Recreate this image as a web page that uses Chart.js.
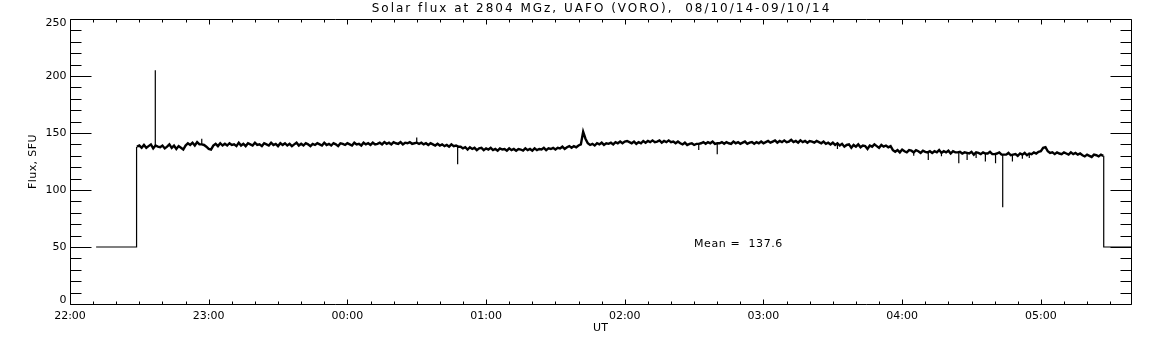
<!DOCTYPE html>
<html>
<head>
<meta charset="utf-8">
<script src="https://cdn.jsdelivr.net/npm/chart.js@4/dist/chart.umd.min.js"></script>
<style>
  html, body { margin: 0; padding: 0; background: #fff; }
  canvas { display: block; }
</style>
</head>
<body>
<canvas id="fluxChart" width="1152" height="345"></canvas>
<script>
// minutes after 22:00 UT, 08/10/14
var xTickMinutes = [0, 60, 120, 180, 240, 300, 360, 420];
var xTickLabels = ['22:00', '23:00', '00:00', '01:00', '02:00', '03:00', '04:00', '05:00'];
var yTickValues = [0, 50, 100, 150, 200, 250];

// receiver off before / after the session (flux level 50) incl. the jumps
var headMinutes = [11.3, 28.8, 28.8];
var headFlux = [50, 50, 138];
var tailMinutes = [447.2, 447.2, 459];
var tailFlux = [130, 50, 50];

// one value per minute starting at minute 29 (22:29 UT), SFU
var fluxStartMinute = 29;
var flux = [
  138, 139, 137, 139.5, 137, 138.5, 140, 136.5, 139, 138,
  137.5, 139, 136.5, 138, 140, 137, 139, 136, 138.5, 137,
  135.5, 139, 141, 139.5, 141.5, 139, 142, 140, 140, 139.5,
  138, 136, 135.5, 139, 140.5, 138.5, 141, 139, 140.5, 139,
  141, 139.5, 140, 138.5, 141.5, 139, 140.5, 138.5, 141, 140,
  139, 141.5, 139.5, 140, 138.5, 141, 140, 139, 141.5, 139.5,
  140.5, 138.5, 141, 139.5, 141, 139, 140.5, 138.5, 140, 141.5,
  139, 140.5, 139, 141, 140, 138.5, 140.5, 139.5, 141, 140,
  139, 141.5, 139.5, 140.5, 139, 141, 140, 138.5, 141, 140.5,
  139.5, 141, 140, 139, 141.5, 140, 140.5, 139, 141.5, 140,
  141, 139.5, 141.5, 140, 140.5, 141.5, 140, 142, 140.5, 141.5,
  140, 142, 141, 140.5, 142, 140, 141.5, 141, 142, 140.5,
  141, 141.5, 140.5, 141.5, 140, 141, 139.5, 141, 140, 139,
  140.5, 139, 140, 138.5, 139.5, 138, 140, 138.5, 139, 138,
  138, 136.5, 137.5, 135.5, 137.5, 136, 137, 135, 136.5, 137,
  135, 136.5, 135.5, 137, 135, 136, 134.5, 136.5, 135.5, 136,
  134.5, 136.5, 135, 136, 134.5, 136, 135.5, 134.5, 136.5, 135,
  136, 134.5, 136.5, 135, 136, 135.5, 137, 135, 136.5, 136,
  137, 135.5, 137, 136.5, 138, 136, 137.5, 138.5, 137, 138.5,
  137.5, 139, 140, 151, 145, 141, 139.5, 140.5, 139, 141,
  140, 141.5, 139.5, 141, 140.5, 141.5, 140, 142, 141, 142.5,
  141, 142.5, 143, 142, 141, 142.5, 140.5, 142, 141, 143,
  141.5, 143, 142, 143.5, 142, 142.5, 143.5, 141.5, 143, 142,
  143.5, 142, 142.5, 141, 142.5, 141, 140, 141.5, 139.5, 140.5,
  141, 139.5, 140.5, 140.5, 141, 142, 140.5, 142, 141, 142.5,
  140.5, 141, 141, 142, 140.5, 142, 141, 140.5, 142.5, 141,
  142, 140.5, 141.5, 142.5, 140.5, 141.5, 142, 140.5, 142, 141,
  142.5, 141, 142, 143, 141.5, 142.5, 143.5, 141.5, 143, 142,
  143.5, 142, 142.5, 144, 142, 143, 141.5, 143.5, 142, 143,
  141.5, 143, 142.5, 141.5, 143, 142, 141, 142.5, 140.5, 141.5,
  140, 141.5, 139.5, 141, 139, 140.5, 138, 139.5, 140, 137,
  139.5, 138, 140, 137.5, 139, 138.5, 136, 139, 138, 140,
  138.5, 137, 139.5, 138, 139, 137.5, 138.5, 135, 133.5, 135,
  133, 135.5, 134, 133, 135, 134.5, 133, 135, 134, 132.5,
  134.5, 133.5, 133, 134, 132.5, 134, 133, 135, 132.5, 134,
  133, 134.5, 132, 134, 133, 133, 133.5, 132, 133, 132.5,
  132, 133.5, 131, 133, 132.5, 131.5, 133, 132, 132, 133.5,
  131.5, 131.5, 132, 133, 131, 131, 131, 132.5, 130.5, 131,
  131.5, 130, 132, 131, 132.5, 130.5, 132, 131.5, 133, 132,
  133.5, 134, 137, 137.5, 134, 132.5, 133, 131.5, 133, 132,
  131.5, 133, 132, 131, 133, 131.5, 132.5, 131, 132, 130.5,
  129.5, 131, 130, 129, 131, 130.5, 129.5, 131, 130
];

// short spikes on top of the trace: minute, level at the foot, tip
var spikeMinutes = [36.9, 57, 150, 167.7, 272, 280, 332, 365, 371.3, 377, 384.5, 388.1, 392, 396, 400.4, 403.5, 407.7, 412, 415];
var spikeBase = [139, 140, 141, 138, 140.5, 140.5, 140, 134, 133.5, 133.5, 133, 132.5, 132, 132, 131.5, 131, 131, 131, 131];
var spikeTip = [205, 145, 146, 122.5, 135, 131.3, 136, 130, 126.3, 129.5, 123.4, 126.3, 128, 125, 123.4, 84.8, 125, 127.5, 128];

var meanFlux = 137.6;

var bandPoints = flux.map(function(v, i){ return {x: fluxStartMinute + i, y: v}; });
var thinPoints = [];
headMinutes.forEach(function(m, i){ thinPoints.push({x: m, y: headFlux[i]}); });
thinPoints.push({x: fluxStartMinute, y: null});
spikeMinutes.forEach(function(m, i){
    thinPoints.push({x: m, y: spikeBase[i]});
    thinPoints.push({x: m, y: spikeTip[i]});
    thinPoints.push({x: m, y: null});
});
tailMinutes.forEach(function(m, i){ thinPoints.push({x: m, y: tailFlux[i]}); });

var FONT = '"DejaVu Sans", sans-serif';

// IDL-like frame: box, inward ticks on all four sides, labels
var idlFrame = {
    id: 'idlFrame',
    afterDraw: function(chart){
        var ctx = chart.ctx;
        var a = chart.chartArea;
        var xs = chart.scales.x;
        var ys = chart.scales.y;
        var L = Math.round(a.left) + 0.5, R = Math.round(a.right) + 0.5;
        var T = Math.round(a.top) + 0.5, B = Math.round(a.bottom) + 0.5;
        ctx.save();
        ctx.strokeStyle = '#000';
        ctx.lineWidth = 1;
        ctx.beginPath();
        ctx.rect(L, T, R - L, B - T);
        // y ticks
        for (var v = 0; v <= 250; v += 10){
            var py = Math.round(ys.getPixelForValue(v)) + 0.5;
            var len = (v % 50 === 0) ? 21 : 11;
            ctx.moveTo(L, py); ctx.lineTo(L + len, py);
            ctx.moveTo(R, py); ctx.lineTo(R - len, py);
        }
        // x ticks
        for (var m = 0; m <= xs.max; m += 10){
            var px = Math.round(xs.getPixelForValue(m)) + 0.5;
            var tl = (m % 60 === 0) ? 5 : 3;
            ctx.moveTo(px, B); ctx.lineTo(px, B - tl);
            ctx.moveTo(px, T); ctx.lineTo(px, T + tl);
        }
        ctx.stroke();

        ctx.fillStyle = '#000';
        ctx.font = '11px ' + FONT;
        ctx.textAlign = 'right';
        ctx.textBaseline = 'middle';
        yTickValues.forEach(function(v){
            var py = ys.getPixelForValue(v);
            py = Math.min(Math.max(py, a.top + 4), a.bottom - 4);
            ctx.fillText(String(v), L - 4, py);
        });
        ctx.textAlign = 'center';
        xTickMinutes.forEach(function(m, i){
            ctx.fillText(xTickLabels[i], xs.getPixelForValue(m), 316);
        });
        ctx.fillText('UT', (a.left + a.right) / 2, 328);

        ctx.font = '12px ' + FONT;
        ctx.letterSpacing = '2px';
        ctx.fillText('Solar flux at 2804 MGz, UAFO (VORO),  08/10/14-09/10/14', (a.left + a.right) / 2 + 1, 9);

        ctx.font = '11px ' + FONT;
        ctx.letterSpacing = '0.6px';
        ctx.textAlign = 'left';
        ctx.fillText('Mean =  ' + meanFlux.toFixed(1), 694, 244);

        ctx.letterSpacing = '0.4px';
        ctx.translate(33, (a.top + a.bottom) / 2);
        ctx.rotate(-Math.PI / 2);
        ctx.textAlign = 'center';
        ctx.fillText('Flux, SFU', 0, 0);
        ctx.restore();
    }
};

var chartArea = document.getElementById('fluxChart').getContext('2d');
var fluxChart = new Chart(chartArea, {
    type: 'line',
    data: {
        datasets: [{
            label: 'Flux',
            data: bandPoints,
            borderColor: '#000',
            borderWidth: 2.4,
            pointRadius: 0,
            tension: 0,
            fill: false
        }, {
            label: 'Flux (off level, spikes)',
            data: thinPoints,
            borderColor: '#000',
            borderWidth: 1.2,
            pointRadius: 0,
            tension: 0,
            spanGaps: false,
            fill: false
        }]
    },
    options: {
        responsive: false,
        animation: false,
        events: [],
        layout: { padding: { left: 70, right: 21, top: 19, bottom: 41 } },
        plugins: { legend: { display: false }, tooltip: { enabled: false } },
        scales: {
            x: { type: 'linear', min: 0, max: 459, display: false },
            y: { type: 'linear', min: 0, max: 250, display: false }
        }
    },
    plugins: [idlFrame]
});
</script>
</body>
</html>
